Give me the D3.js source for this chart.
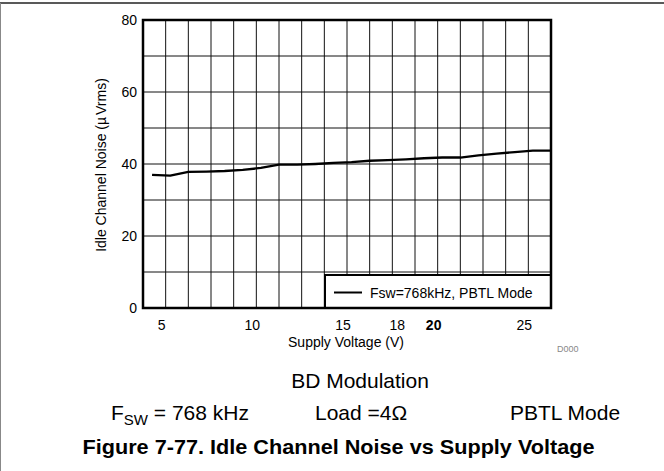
<!DOCTYPE html>
<html>
<head>
<meta charset="utf-8">
<script src="https://cdn.jsdelivr.net/npm/d3@7/dist/d3.min.js"></script>
<style>
  html, body { margin: 0; padding: 0; background: #fff; }
  svg { display: block; font-family: Arial, "Liberation Sans", Helvetica, sans-serif; }
</style>
</head>
<body>
<svg id="chart" width="664" height="471"></svg>
<script>
// Supply voltage (V) and idle channel noise (µVrms)
const supplyVoltage = [4.5, 5.5, 6.5, 7.5, 8.5, 9.5, 10.5, 11.5, 12.5, 13.5, 14.5, 15.5,
                       16.5, 17.5, 18.5, 19.5, 20.5, 21.5, 22.5, 23.5, 24.5, 25.5, 26.5];
const idleNoise = [37.0, 36.75, 37.8, 37.9, 38.05, 38.35, 38.9, 39.8, 39.8, 40.0, 40.3, 40.5,
                   40.9, 41.1, 41.3, 41.6, 41.8, 41.8, 42.4, 42.9, 43.3, 43.7, 43.7];

const xTickValues = [5, 10, 15, 18, 20, 25];
const yTickValues = [0, 20, 40, 60, 80];
const seriesLabel = "Fsw=768kHz, PBTL Mode";

const svg = d3.select("#chart");
const W = 664, H = 471;
const plot = { left: 143, right: 551, top: 20, bottom: 308 };

const x = d3.scaleLinear().domain([4, 26.5]).range([plot.left, plot.right]);
const y = d3.scaleLinear().domain([0, 80]).range([plot.bottom, plot.top]);

// page frame
svg.append("line").attr("x1", 0).attr("x2", W).attr("y1", 3).attr("y2", 3)
  .attr("stroke", "#222").attr("stroke-width", 1.5);
svg.append("line").attr("x1", 0.5).attr("x2", 0.5).attr("y1", 3).attr("y2", H)
  .attr("stroke", "#888").attr("stroke-width", 1);

// grid
const g = svg.append("g");
const xGrid = d3.range(0, 19).map(i => 4 + i * 1.25);
g.selectAll("line.vg").data(xGrid).join("line").attr("class", "vg")
  .attr("x1", d => x(d)).attr("x2", d => x(d))
  .attr("y1", plot.top).attr("y2", plot.bottom)
  .attr("stroke", "#111").attr("stroke-width", 1);
const yGrid = d3.range(0, 81, 10);
g.selectAll("line.hg").data(yGrid).join("line").attr("class", "hg")
  .attr("x1", plot.left).attr("x2", plot.right)
  .attr("y1", d => y(d)).attr("y2", d => y(d))
  .attr("stroke", "#111").attr("stroke-width", 1);

// data line
const line = d3.line().x((d, i) => x(supplyVoltage[i])).y(d => y(d));
svg.append("path").datum(idleNoise).attr("d", line)
  .attr("fill", "none").attr("stroke", "#000").attr("stroke-width", 2.3)
  .attr("stroke-linejoin", "round");

// legend
const leg = svg.append("g");
leg.append("rect").attr("x", 325).attr("y", 275)
  .attr("width", plot.right - 325).attr("height", plot.bottom - 275)
  .attr("fill", "#fff").attr("stroke", "#000").attr("stroke-width", 2);
leg.append("line").attr("x1", 334).attr("x2", 362).attr("y1", 292.5).attr("y2", 292.5)
  .attr("stroke", "#000").attr("stroke-width", 2);
leg.append("text").attr("x", 370).attr("y", 297.5).attr("font-size", 14)
  .attr("fill", "#000").text(seriesLabel);

// plot border
svg.append("rect").attr("x", plot.left).attr("y", plot.top)
  .attr("width", plot.right - plot.left).attr("height", plot.bottom - plot.top)
  .attr("fill", "none").attr("stroke", "#000").attr("stroke-width", 2.5);

// axes
const xAxis = svg.append("g").attr("transform", `translate(0,${plot.bottom})`)
  .call(d3.axisBottom(x).tickValues(xTickValues).tickSize(0).tickPadding(12));
xAxis.select(".domain").remove();
xAxis.selectAll("text").attr("font-size", 14).attr("fill", "#000")
  .attr("font-family", "Arial, 'Liberation Sans', sans-serif")
  .attr("font-weight", d => d === 20 ? "bold" : "normal");

const yAxis = svg.append("g").attr("transform", `translate(${plot.left},0)`)
  .call(d3.axisLeft(y).tickValues(yTickValues).tickSize(0).tickPadding(6));
yAxis.select(".domain").remove();
yAxis.selectAll("text").attr("font-size", 14).attr("fill", "#000")
  .attr("font-family", "Arial, 'Liberation Sans', sans-serif");

// axis titles
svg.append("text").attr("x", 346).attr("y", 347).attr("text-anchor", "middle")
  .attr("font-size", 14).text("Supply Voltage (V)");
const yt = svg.append("text").attr("transform", "translate(106,165) rotate(-90)")
  .attr("text-anchor", "middle").attr("font-size", 14);
yt.append("tspan").text("Idle Channel Noise (µ");
yt.append("tspan").attr("dx", 2).text("Vrms)");

svg.append("text").attr("x", 557).attr("y", 352).attr("font-size", 9)
  .attr("fill", "#888").text("D000");

// captions
svg.append("text").attr("x", 360).attr("y", 388).attr("text-anchor", "middle")
  .attr("font-size", 21).text("BD Modulation");
const fsw = svg.append("text").attr("x", 111).attr("y", 420).attr("font-size", 21);
fsw.append("tspan").text("F");
fsw.append("tspan").attr("font-size", 15).attr("dy", 5).text("SW");
fsw.append("tspan").attr("dy", -5).text(" = 768 kHz");
svg.append("text").attr("x", 315).attr("y", 420).attr("font-size", 21).text("Load =4Ω");
svg.append("text").attr("x", 510).attr("y", 420).attr("font-size", 21).text("PBTL Mode");
svg.append("text").attr("x", 338.5).attr("y", 454).attr("text-anchor", "middle")
  .attr("font-size", 21).attr("font-weight", "bold")
  .attr("textLength", 512).attr("lengthAdjust", "spacingAndGlyphs")
  .text("Figure 7-77. Idle Channel Noise vs Supply Voltage");
</script>
</body>
</html>
